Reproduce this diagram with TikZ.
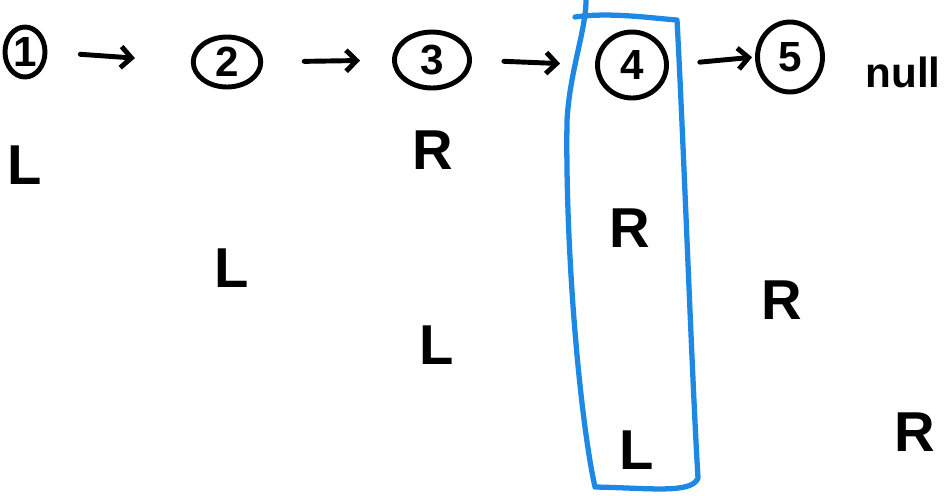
\documentclass[tikz,border=0pt]{standalone}
\usepackage{fontspec}
\setmainfont{Liberation Sans}
\usepackage{tikz}
\usetikzlibrary{shapes.geometric,arrows.meta,positioning}

\definecolor{penblue}{RGB}{30,136,229}

\begin{document}
\begin{tikzpicture}[
    x=0.02cm, y=-0.02cm,
    listnode/.style={ellipse, draw=black, line width=2.8pt, inner sep=0pt, font=\fontsize{24}{24}\selectfont\bfseries},
    side/.style={font=\fontsize{32}{32}\selectfont\bfseries, inner sep=0pt},
    arr/.style={-{Straight Barb[length=6pt,width=12pt,line width=2.8pt]}, line width=2.8pt, line cap=round},
    box/.style={draw=penblue, line width=3pt, line join=round, line cap=round}
]
    \useasboundingbox (0,0) rectangle (945,495);

    % Row of list nodes
    \node[listnode, minimum width=0.8cm,  minimum height=1.0cm]  (n1) at (25,52)  {1};
    \node[listnode, minimum width=1.35cm, minimum height=1.0cm]  (n2) at (227,62) {2};
    \node[listnode, minimum width=1.5cm,  minimum height=1.12cm] (n3) at (432,60) {3};
    \node[listnode, minimum width=1.38cm, minimum height=1.32cm] (n4) at (632,65) {4};
    \node[listnode, minimum width=1.3cm,  minimum height=1.4cm]  (n5) at (790,57) {5};
    \node[font=\fontsize{24}{24}\selectfont\bfseries, inner sep=0pt] (null) at (903,72) {null};

    % Arrows between nodes
    \draw[arr, shorten <=0.66cm, shorten >=1.12cm] (n1.east) -- (n2.west);
    \draw[arr, shorten <=0.82cm, shorten >=0.64cm] (n2.east) -- (n3.west);
    \draw[arr, shorten <=0.64cm, shorten >=0.70cm] (n3.east) -- (n4.west);
    \draw[arr, shorten <=0.62cm, shorten >=0.06cm] (n4.east) -- (n5.west);

    % L / R marks
    \node[side] (m1) at (25,165)  {L};
    \node[side] (m2) at (433,150) {R};
    \node[side] (m3) at (232,268) {L};
    \node[side] (m4) at (437,345) {L};
    \node[side] (m5) at (630,228) {R};
    \node[side] (m6) at (637,450) {L};
    \node[side] (m7) at (782,300) {R};
    \node[side] (m8) at (915,432) {R};

    % Highlight round node 4
    \draw[box] (575,17) .. controls (610,12) and (650,18) .. (677,20)
        .. controls (684,150) and (692,380) .. (698,478)
        .. controls (692,494) and (650,488) .. (595,487)
        .. controls (580,420) and (565,250) .. (567,120)
        .. controls (570,70) and (586,30) .. (586,0);
\end{tikzpicture}
\end{document}
